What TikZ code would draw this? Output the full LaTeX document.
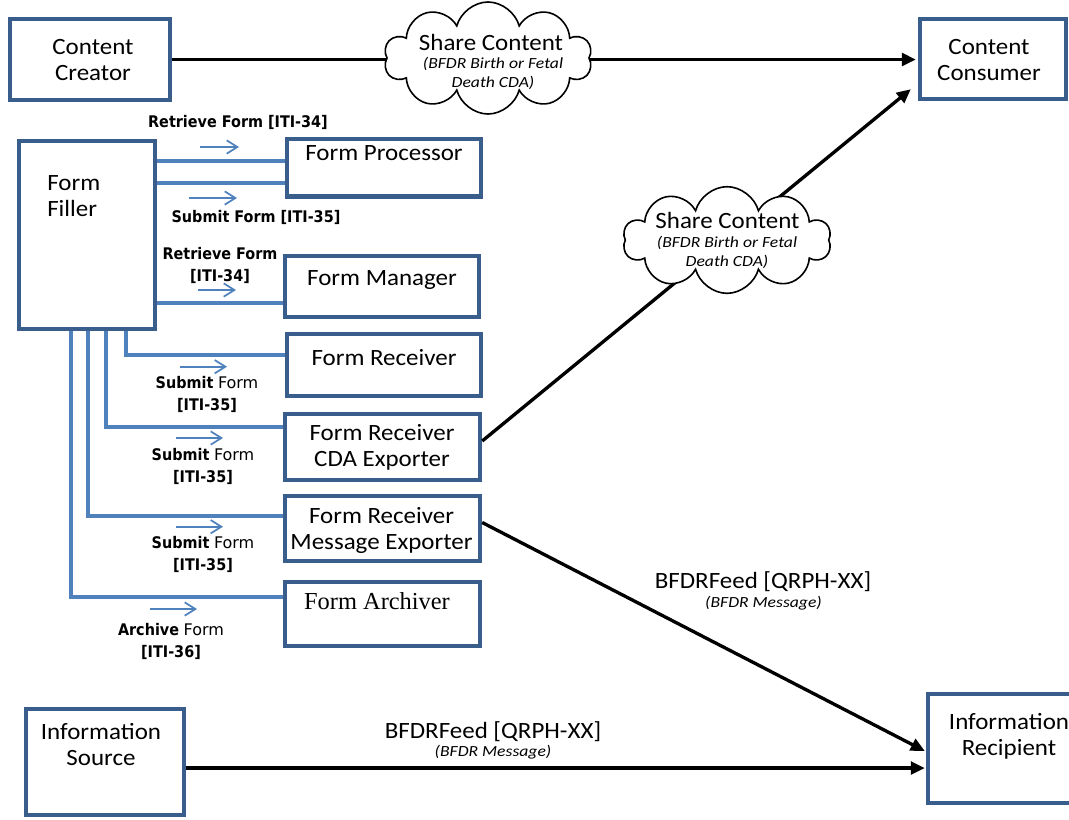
\documentclass[tikz,border=0pt]{standalone}
\usepackage{fontspec}
\setmainfont{Carlito}[FakeStretch=1.07]
\newfontfamily\itfam{Carlito}[FakeStretch=1.14]
\newfontfamily\vfam{DejaVu Sans}[FakeStretch=0.9]
\newfontfamily\vreg{DejaVu Sans}
\newfontfamily\serfam{Liberation Serif}
\usetikzlibrary{shapes.symbols,arrows.meta,calc}
\definecolor{boxblue}{HTML}{3A5E8C}
\definecolor{linkblue}{HTML}{4F81BD}
\newcommand{\plainform}{{\vreg\mdseries\fontsize{12}{16.5}\selectfont Form}}
\begin{document}
\begin{tikzpicture}[x=0.75pt,y=-0.75pt,
 actor/.style={draw=boxblue, line width=3.3pt, fill=white, inner sep=0pt},
 lbl/.style={font=\fontsize{17.5}{19.5}\selectfont, align=center, inner sep=0pt},
 ital/.style={font=\itfam\itshape\fontsize{11.6}{14.25}\selectfont, align=center, inner sep=0pt},
 tx/.style={font=\vfam\fontsize{12}{16.5}\selectfont, align=center, inner sep=0pt},
 txb/.style={font=\vfam\bfseries\fontsize{12}{16.5}\selectfont, align=center, inner sep=0pt},
 link/.style={draw=linkblue, line width=2.9pt},
 dirarrow/.style={draw=linkblue, line width=1.3pt, -{Straight Barb[length=8pt,width=10pt]}},
 flow/.style={draw=black, line width=2.5pt, -{Triangle[length=10.5pt,width=9.5pt]}},
 cloudsh/.style={cloud, cloud puffs=10, draw=black, line width=1.2pt, fill=white, aspect=2.2, inner sep=0pt}
]
\useasboundingbox (0,0) rectangle (1069,819);

% actor boxes
\node[actor, minimum width=120pt, minimum height=60.75pt] (cc) at (90,59.5) {};
\node[actor, minimum width=109.5pt, minimum height=60pt] (ccons) at (993,59) {};
\node[actor, minimum width=102pt, minimum height=141pt] (ff) at (86.7,235) {};
\node[actor, minimum width=145.5pt, minimum height=43.2pt] (fp) at (384,167.5) {};
\node[actor, minimum width=145.5pt, minimum height=45.75pt] (fm) at (382,286.5) {};
\node[actor, minimum width=145.5pt, minimum height=46.5pt] (fr) at (384,365) {};
\node[actor, minimum width=146.25pt, minimum height=49.5pt] (fcda) at (382.5,447) {};
\node[actor, minimum width=146.25pt, minimum height=48.75pt] (fmsg) at (382.5,528.5) {};
\node[actor, minimum width=146.25pt, minimum height=48pt] (farc) at (382.5,614) {};
\node[actor, minimum width=118.5pt, minimum height=79.5pt] (isrc) at (105,762) {};
\node[actor, minimum width=120pt, minimum height=81.75pt] (irec) at (1008,748.5) {};

% box texts
\node[lbl] (tcc) at (93,60) {Content\\Creator};
\node[lbl] (tccons) at (989,60) {Content\\Consumer};
\node[lbl, align=left, anchor=west] (tff) at (47,196) {Form\\Filler};
\node[lbl] (tfp) at (384,153) {Form Processor};
\node[lbl] (tfm) at (382,280) {Form Manager};
\node[lbl] (tfr) at (384,358) {Form Receiver};
\node[lbl] (tfcda) at (382,447) {Form Receiver\\CDA Exporter};
\node[lbl] (tfmsg) at (381.5,530) {Form Receiver\\Message Exporter};
\node[inner sep=0pt, font=\serfam\fontsize{18.3}{20}\selectfont] (tfarc) at (377,601) {Form Archiver};
\node[lbl] (tisrc) at (101,744) {Information\\Source};
\node[lbl] (tirec) at (1009,736) {Information\\Recipient};

% black flows
\draw[flow] (cc.east) -- ($(cc.east -| ccons.west)+(-2,0)$);
\draw[flow] ($(fcda.east)+(0,-6)$) -- ($(ccons.south west)+(-7,-12)$);
\draw[flow] ($(fmsg.east)+(0,-6)$) -- ($(irec.west)+(-1,2.5)$);
\coordinate (b0) at ($(isrc.east)+(0,6)$);
\draw[flow] (b0) -- ($(b0 -| irec.west)+(-1,0)$);

% clouds
\node[cloudsh, minimum width=156pt, minimum height=84pt] (cl1) at (488,58) {};
\node[cloudsh, minimum width=156pt, minimum height=80pt] (cl2) at (727,240) {};
\node[lbl] (tcl1) at (491,42) {Share Content};
\node[ital] (icl1) at (493,73) {(BFDR Birth or Fetal\\Death CDA)};
\node[lbl] (tcl2) at (727.5,220) {Share Content};
\node[ital] (icl2) at (727,252.5) {(BFDR Birth or Fetal\\Death CDA)};

% flow labels
\node[lbl] (tfeed1) at (763,582) {BFDRFeed [QRPH-XX]};
\node[ital] (ifeed1) at (763.5,603) {(BFDR Message)};
\node[lbl] (tfeed2) at (493,732) {BFDRFeed [QRPH-XX]};
\node[ital] (ifeed2) at (493,752) {(BFDR Message)};

% blue links
\coordinate (p1) at ($(fp.west)+(0,-6.5)$);
\coordinate (p2) at ($(fp.west)+(0,15.5)$);
\coordinate (p3) at ($(fm.west)+(0,16.2)$);
\draw[link] (p1) -- (p1 -| ff.east);
\draw[link] (p2) -- (p2 -| ff.east);
\draw[link] (p3) -- (p3 -| ff.east);
\coordinate (q4) at ($(ff.south)+(39.3,0)$);
\coordinate (r4) at ($(fr.west)+(0,-10)$);
\draw[link] (q4) |- (r4);
\coordinate (q5) at ($(ff.south)+(19.3,0)$);
\coordinate (r5) at ($(fcda.west)+(0,-20.3)$);
\draw[link] (q5) |- (r5);
\coordinate (q6) at ($(ff.south)+(1.3,0)$);
\coordinate (r6) at ($(fmsg.west)+(0,-12.8)$);
\draw[link] (q6) |- (r6);
\coordinate (q7) at ($(ff.south)+(-16,0)$);
\coordinate (r7) at ($(farc.west)+(0,-17.3)$);
\draw[link] (q7) |- (r7);

% small direction arrows
\draw[dirarrow] (200,147) -- (239,147);
\draw[dirarrow] (189,198) -- (237,198);
\draw[dirarrow] (198,290) -- (236,290);
\draw[dirarrow] (180,366.7) -- (227,366.7);
\draw[dirarrow] (176,438) -- (223,438);
\draw[dirarrow] (176,526.7) -- (223,526.7);
\draw[dirarrow] (150,609) -- (197,609);

% transaction labels
\node[txb] (l1) at (238,122) {Retrieve Form [ITI-34]};
\node[txb] (l2) at (256,217) {Submit Form [ITI-35]};
\node[txb] (l3) at (220,265) {Retrieve Form\\{[ITI-34]}};
\node[tx] (l4) at (207,394.5) {\textbf{Submit} \plainform\\\textbf{[ITI-35]}};
\node[tx] (l5) at (203,466) {\textbf{Submit} \plainform\\\textbf{[ITI-35]}};
\node[tx] (l6) at (203,554) {\textbf{Submit} \plainform\\\textbf{[ITI-35]}};
\node[tx] (l7) at (171,641.5) {\textbf{Archive} \plainform\\\textbf{[ITI-36]}};
\end{tikzpicture}
\end{document}
